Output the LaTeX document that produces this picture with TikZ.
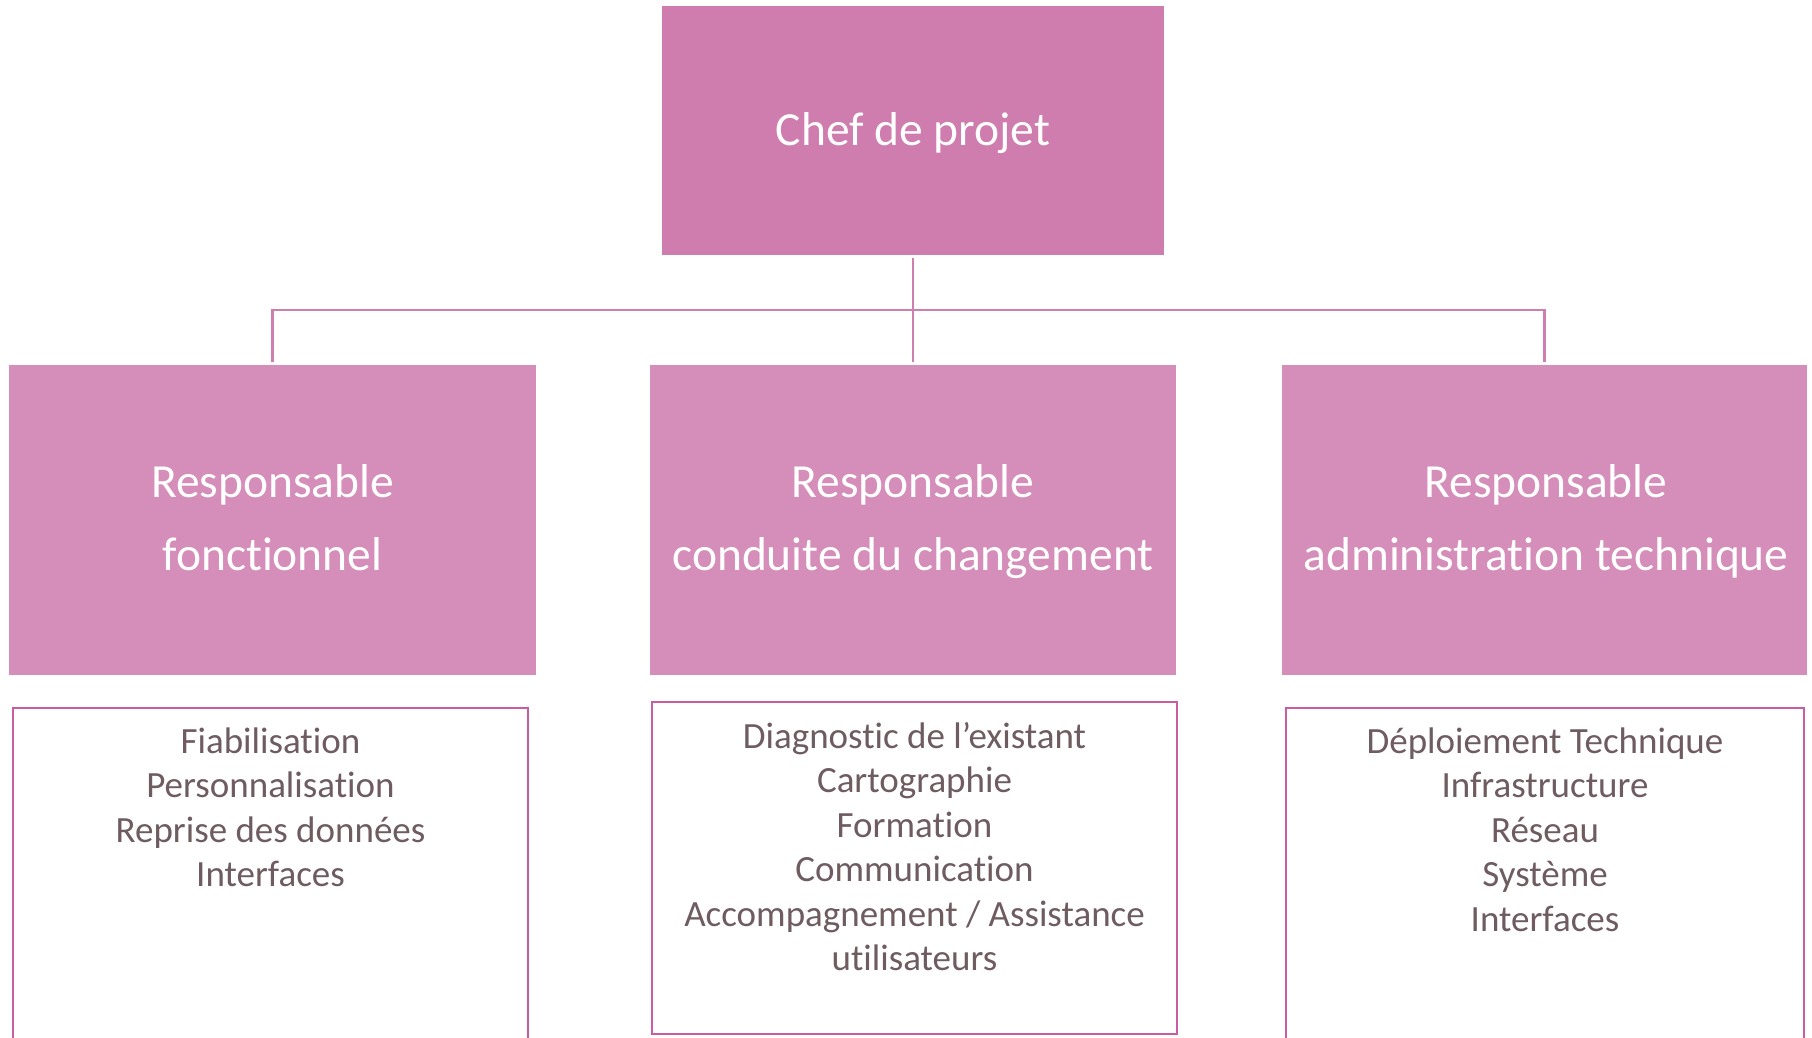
\documentclass[tikz,border=0pt]{standalone}
\usepackage{fontspec}
\setmainfont{Carlito}[Ligatures=NoCommon]
\definecolor{chefpink}{RGB}{207,124,174}
\definecolor{respink}{RGB}{213,141,185}
\definecolor{linepink}{RGB}{207,126,176}
\definecolor{listborder}{RGB}{200,94,161}
\definecolor{listtext}{RGB}{110,92,96}
\tikzset{
  chefbox/.style={rectangle, fill=chefpink, draw=none, inner sep=0pt, outer sep=0pt, anchor=north west},
  resbox/.style={rectangle, fill=respink, draw=none, inner sep=0pt, outer sep=0pt, anchor=north west},
  listbox/.style={rectangle, draw=listborder, line width=2.7pt, fill=white, inner sep=0pt, outer sep=0pt, anchor=north west},
  titletxt/.style={text=white, inner sep=0pt, font=\fontsize{47.5}{73}\selectfont, align=center},
  listtxt/.style={text=listtext, inner sep=0pt, font=\fontsize{37}{44.5}\selectfont, align=center, anchor=north},
  conn/.style={draw=linepink, line width=2.5pt}
}
\begin{document}
\begin{tikzpicture}[x=1pt,y=-1pt]
\useasboundingbox (0,0) rectangle (1812,1038);
\clip (0,0) rectangle (1812,1038);
\fill[white] (0,0) rectangle (1812,1038);

% top box
\node[chefbox, minimum width=502pt, minimum height=249pt] (chef) at (662,6) {};
\node[titletxt, anchor=base] (chefT) at (913,146) {Chef de projet};

% second level boxes
\node[resbox, minimum width=527pt, minimum height=310pt] (fonc) at (9,365) {};
\node[resbox, minimum width=526pt, minimum height=310pt] (chg) at (650,365) {};
\node[resbox, minimum width=525pt, minimum height=310pt] (tech) at (1282,365) {};

\node[titletxt, anchor=north] (foncT) at (272.5,447) {\rule{0pt}{50pt}Responsable\\fonctionnel};
\node[titletxt, anchor=north] (chgT) at (913,447) {\rule{0pt}{50pt}Responsable\\conduite du changement};
\node[titletxt, anchor=north] (techT) at (1546,447) {\rule{0pt}{50pt}Responsable\\administration technique};

% connectors
\coordinate (bar) at (913,310);
\draw[conn] ([yshift=-3pt]chef.south) -- ([yshift=3pt]chg.north);
\draw[conn] ([yshift=3pt]fonc.north) |- (bar) -| ([yshift=3pt]tech.north);

% list boxes
\node[listbox, minimum width=515pt, minimum height=345pt] (l1) at (13,708) {};
\node[listbox, minimum width=525pt, minimum height=332pt] (l2) at (652,702) {};
\node[listbox, minimum width=518pt, minimum height=345pt] (l3) at (1286,708) {};

\node[listtxt] (l1T) at (270.5,713) {\rule{0pt}{40pt}Fiabilisation\\Personnalisation\\Reprise des données\\Interfaces};
\node[listtxt] (l2T) at (914.5,708) {\rule{0pt}{40pt}Diagnostic de l’existant\\Cartographie\\Formation\\Communication\\Accompagnement / Assistance\\utilisateurs};
\node[listtxt] (l3T) at (1545,713) {\rule{0pt}{40pt}Déploiement Technique\\Infrastructure\\Réseau\\Système\\Interfaces};
\end{tikzpicture}
\end{document}
